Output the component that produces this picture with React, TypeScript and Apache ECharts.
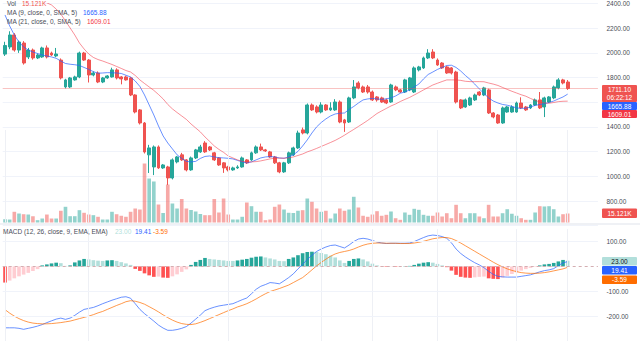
import React, { useEffect, useRef } from "react";
import * as echarts from "echarts";

// ---------- data ----------
const opens = [1990,2048,2145,2023,2080,1967,2023,1959,1967,2040,
1999,1975,1942,1724,1724,1781,1805,1999,1942,1821,
1837,1764,1797,1805,1862,1805,1805,1797,1659,1538,
1432,1174,1076,1238,1068,1076,987,1117,1174,1133,
1052,1149,1198,1270,1238,1190,1149,1109,1076,1052,
1068,1076,1133,1133,1190,1238,1214,1198,1157,1109,
1036,1109,1174,1230,1376,1351,1578,1562,1521,1578,
1538,1538,1602,1457,1440,1635,1756,1724,1724,1683,
1643,1635,1619,1602,1724,1700,1683,1700,1683,1862,
1878,1959,2007,1942,1918,1886,1878,1845,1619,1562,
1578,1619,1683,1659,1700,1513,1497,1432,1521,1521,
1521,1594,1562,1554,1578,1619,1562,1602,1635,1716,
1781,1764];
const closes = [2060,2145,2023,2088,1918,2023,1959,1983,2040,1967,
1983,1991,1797,1781,1797,1805,1999,1942,1821,1837,
1764,1797,1813,1862,1797,1789,1781,1659,1521,1432,
1197,1230,1238,1068,1092,987,1133,1157,1133,1052,
1149,1214,1238,1198,1214,1133,1092,1068,1052,1068,
1076,1149,1109,1190,1238,1214,1206,1157,1109,1036,
1109,1190,1230,1351,1351,1578,1538,1521,1578,1538,
1554,1602,1440,1432,1635,1724,1716,1683,1683,1619,
1619,1602,1594,1740,1700,1683,1781,1797,1878,1886,
1959,1999,1959,1902,1878,1837,1837,1602,1554,1619,
1635,1659,1659,1716,1513,1481,1432,1554,1562,1562,
1594,1554,1538,1578,1619,1554,1635,1643,1724,1781,
1756,1711.1];
const highs = [2090,2175,2160,2100,2095,2040,2035,1995,2050,2060,
2010,2040,1955,1790,1805,1815,2010,2008,1950,1850,
1850,1805,1820,1880,1875,1812,1815,1805,1665,1545,
1440,1255,1250,1250,1100,1085,1145,1165,1190,1140,
1160,1222,1255,1285,1245,1198,1155,1115,1085,1078,
1090,1160,1140,1200,1250,1265,1222,1206,1165,1117,
1117,1200,1240,1370,1395,1590,1590,1575,1600,1585,
1600,1625,1615,1465,1645,1780,1770,1735,1740,1695,
1650,1645,1630,1750,1735,1708,1790,1805,1890,1895,
1970,2030,2030,1955,1925,1895,1885,1855,1625,1630,
1645,1670,1690,1725,1710,1520,1505,1565,1570,1575,
1605,1640,1570,1585,1630,1683,1645,1650,1735,1795,
1790,1780];
const lows = [1975,2030,2010,2000,1905,1950,1945,1950,1960,1955,
1975,1965,1785,1712,1715,1775,1795,1935,1760,1810,
1755,1755,1790,1800,1785,1745,1775,1650,1510,1420,
1185,1027,1010,1060,1060,930,975,1105,1125,1040,
1045,1140,1190,1190,1205,1125,1085,1028,1040,1045,
1060,1070,1100,1125,1182,1205,1198,1150,1100,1025,
1028,1100,1165,1222,1340,1340,1530,1510,1510,1530,
1530,1530,1430,1360,1432,1625,1705,1675,1670,1610,
1605,1595,1585,1595,1690,1675,1675,1690,1675,1850,
1870,1950,1950,1895,1870,1830,1825,1590,1545,1555,
1570,1610,1650,1650,1505,1470,1425,1425,1515,1515,
1515,1545,1530,1545,1570,1545,1480,1595,1625,1705,
1745,1700];
// volume in thousands
const volumes = [5.5,5.0,18.0,15.1,13.9,13.4,10.6,3.9,6.7,13.4,
6.7,6.7,19.7,26.4,10.6,10.6,20.7,16.3,13.4,12.3,
9.6,5.0,5.0,18.0,13.9,11.3,9.6,18.0,23.5,21.8,
99.1,73.9,68.9,30.2,16.0,63.8,31.9,23.5,39.5,23.5,
21.0,18.5,14.3,12.3,12.3,39.5,16.8,40.3,13.4,5.0,
5.0,9.6,33.6,27.4,18.0,18.0,3.9,5.0,26.4,30.2,
21.8,16.3,16.0,19.7,20.7,40.3,34.8,23.5,18.0,19.7,
6.7,15.1,23.5,19.7,21.8,43.2,25.2,11.3,9.6,13.4,
19.0,11.3,12.9,18.5,7.2,4.5,16.8,12.9,23.0,21.3,
12.9,11.3,11.3,16.8,10.1,15.6,7.2,29.7,15.6,7.2,
15.6,15.6,10.1,7.2,29.7,10.1,10.1,15.6,22.3,14.6,
11.3,7.2,4.5,4.5,16.8,27.4,26.9,27.4,22.3,10.1,
13.9,15.121];
const ma9 = [2307,2218,2145,2088,2048,2023,2007,1995,1983,1975,
1967,1956,1934,1914,1908,1904,1898,1882,1866,1848,
1835,1837,1840,1839,1837,1833,1819,1805,1772,1728,
1659,1578,1497,1408,1327,1270,1222,1174,1145,1121,
1117,1121,1145,1161,1165,1157,1151,1149,1146,1141,
1129,1117,1108,1117,1133,1149,1157,1160,1157,1149,
1146,1157,1174,1202,1246,1295,1351,1400,1436,1465,
1489,1505,1511,1513,1542,1566,1594,1619,1627,1631,
1627,1623,1628,1635,1651,1673,1683,1700,1724,1748,
1789,1825,1845,1866,1882,1898,1900,1882,1853,1817,
1785,1748,1708,1671,1635,1610,1594,1582,1576,1566,
1554,1551,1551,1562,1574,1582,1588,1598,1610,1627,
1643,1665.88];
const ma21 = [2650,2625,2598,2570,2540,2510,2480,2455,2432,2405,
2388,2355,2315,2258,2202,2145,2080,2032,1991,1963,
1946,1934,1920,1906,1890,1874,1857,1845,1817,1781,
1752,1724,1696,1663,1627,1582,1546,1517,1489,1461,
1424,1392,1360,1319,1283,1246,1218,1194,1165,1149,
1133,1121,1117,1117,1119,1125,1133,1141,1147,1147,
1147,1149,1157,1169,1181,1198,1211,1226,1242,1258,
1274,1291,1311,1333,1357,1380,1404,1428,1453,1481,
1509,1530,1550,1570,1586,1606,1623,1639,1659,1679,
1700,1720,1740,1754,1768,1781,1781,1781,1777,1770,
1767,1767,1767,1766,1756,1747,1736,1720,1704,1689,
1675,1661,1649,1631,1615,1602,1594,1592,1598,1605,
1608,1609.01];
const macdLine = [-247,-247,-247,-249,-253,-249,-245,-240,-234,-226,
-219,-212,-208,-213,-208,-197,-184,-173,-169,-165,
-158,-150,-143,-136,-130,-124,-122,-128,-150,-173,
-190,-205,-220,-236,-248,-257,-257,-254,-249,-242,
-228,-212,-196,-178,-170,-164,-159,-156,-153,-150,
-142,-134,-127,-110,-92,-80,-73,-65,-67,-70,
-58,-45,-30,-10,8,28,45,60,70,78,
84,86,80,74,86,100,110,113,110,104,
98,94,92,93,93,93,93,94,100,108,
116,123,126,124,120,113,95,70,52,38,
26,15,6,-5,-20,-32,-40,-42,-43,-43,
-43,-40,-37,-34,-28,-22,-17,-14,-9,3,
14,19.41];
const signalLine = [-174,-188,-200,-210,-218,-224,-228,-230,-231,-231,
-230,-228,-226,-223,-220,-215,-210,-205,-200,-194,
-187,-181,-173,-165,-157,-150,-142,-138,-140,-145,
-152,-162,-172,-183,-195,-206,-216,-224,-230,-233,
-234,-231,-225,-218,-210,-202,-194,-186,-178,-171,
-163,-157,-150,-141,-131,-120,-110,-101,-95,-89,
-82,-75,-65,-55,-45,-30,-14,2,16,29,
41,50,56,60,64,70,78,85,90,93,
94,94,93,93,93,92,92,92,94,97,
101,106,111,114,116,116,112,104,94,83,
72,61,50,39,28,17,7,-2,-10,-16,
-21,-25,-27,-28,-28,-27,-25,-22,-18,-14,
-10,-3.59];
const macdHist = [-65,-57,-48,-40,-33,-26,-18,-11,4,8,
12,15,13,2,4,16,24,30,28,25,
23,22,24,25,22,17,12,6,-10,-18,
-28,-36,-42,-41,-45,-46,-40,-32,-22,-12,
6,18,26,34,30,28,26,24,22,22,
24,27,30,35,39,40,36,32,28,22,
21,30,36,45,53,58,59,58,54,49,
43,36,24,14,22,30,32,28,20,11,
4,-1,-2,-1,-2,-1,1,2,6,11,
15,17,15,10,4,-3,-17,-34,-42,-45,
-46,-44,-42,-41,-48,-50,-51,-45,-38,-31,
-24,-17,-11,-6,-2,4,8,10,14,20,
26,23];
const vGridIdx = [0, 18, 48, 68, 79, 93, 110, 121];
const priceTicksHidden = [600, 1600];
const macdTicksShown = [100, -100, -200];
const countdown = "06:22:12";
const N_SLOTS = 128;

const UP = "#26a69a";
const DOWN = "#ef5350";
const FONT = "'Liberation Sans', Arial, sans-serif";

export default function App() {
  const ref = useRef<HTMLDivElement>(null);
  useEffect(() => {
    const chart = echarts.init(ref.current!, null, { renderer: "svg" });
    const cats = Array.from({ length: N_SLOTS }, (_, i) => String(i));
    const n = closes.length;
    const last = n - 1;
    const candles = closes.map((c, i) => [opens[i], c, lows[i], highs[i]]);
    const volData = volumes.map((v, i) => ({
      value: v,
      itemStyle: { color: closes[i] >= opens[i] ? "rgba(38,166,154,0.5)" : "rgba(239,83,80,0.5)" },
    }));
    const histData = macdHist.map((v, i) => {
      const prev = i > 0 ? macdHist[i - 1] : v;
      let color;
      if (v >= 0) color = prev < v ? "#26a69a" : "#b2dfdb";
      else color = prev < v ? "#ffcdd2" : "#ff5252";
      return { value: v, itemStyle: { color } };
    });
    const vLines = vGridIdx.map((i) => ({ xAxis: String(i) }));
    const gridCommon = { left: 2.7, right: 42.1 };
    const lastPrice = closes[last];

    const txt = (x: number, y: number, text: string, fill: string, align = "left") => ({
      type: "text",
      x,
      y,
      z: 100,
      silent: true,
      style: { text, fill, fontSize: 6.5, fontFamily: FONT, align, verticalAlign: "middle" },
    });
    const tag = (y: number, h: number, bg: string, lines: string[], fg = "#ffffff") => {
      const els: any[] = [
        { type: "rect", z: 99, silent: true, shape: { x: 602, y, width: 35, height: h, r: 1 }, style: { fill: bg } },
      ];
      const lh = h / lines.length;
      lines.forEach((l, k) => els.push(txt(619.5, y + lh * (k + 0.5), l, fg, "center")));
      return els;
    };

    const option: any = {
      animation: false,
      backgroundColor: "#ffffff",
      textStyle: { fontFamily: FONT },
      grid: [
        { ...gridCommon, top: 3.5, height: 222.2 },
        { ...gridCommon, top: 130, height: 92.5 },
        { ...gridCommon, top: 229.1, height: 113.4 },
      ],
      xAxis: [0, 1, 2].map((g) => ({
        type: "category",
        gridIndex: g,
        data: cats,
        boundaryGap: true,
        show: false,
      })),
      yAxis: [
        {
          gridIndex: 0,
          type: "value",
          position: "right",
          min: 600,
          max: 2400,
          interval: 200,
          axisLine: { show: false },
          axisTick: { show: false },
          splitLine: { lineStyle: { color: "#f0f3fa", width: 1 } },
          axisLabel: {
            margin: 8.5,
            fontSize: 6.5,
            color: "#4a4d57",
            fontFamily: FONT,
            formatter: (v: number) => (priceTicksHidden.includes(v) ? "" : v.toFixed(2)),
          },
        },
        { gridIndex: 1, type: "value", min: 0, max: 155.4, show: false },
        {
          gridIndex: 2,
          type: "value",
          position: "right",
          min: -300,
          max: 150,
          interval: 50,
          axisLine: { show: false },
          axisTick: { show: false },
          splitLine: { show: false },
          axisLabel: {
            margin: 8.5,
            fontSize: 6.5,
            color: "#4a4d57",
            fontFamily: FONT,
            formatter: (v: number) => (macdTicksShown.includes(v) ? v.toFixed(2) : ""),
          },
        },
      ],
      series: [
        {
          type: "bar",
          name: "Vol",
          xAxisIndex: 1,
          yAxisIndex: 1,
          data: volData,
          barWidth: "78%",
          z: 1,
          markLine: {
            silent: true,
            symbol: "none",
            label: { show: false },
            lineStyle: { color: "#eef0f5", width: 1, type: "solid" },
            data: vLines,
          },
        },
        {
          type: "candlestick",
          xAxisIndex: 0,
          yAxisIndex: 0,
          data: candles,
          barWidth: 3.4,
          z: 3,
          itemStyle: { color: UP, color0: DOWN, borderColor: UP, borderColor0: DOWN, borderWidth: 1 },
          markLine: {
            silent: true,
            symbol: "none",
            label: { show: false },
            lineStyle: { color: "#ef5350", width: 1, type: "solid", opacity: 0.35 },
            data: [{ yAxis: lastPrice }],
          },
        },
        {
          type: "line",
          name: "MA9",
          xAxisIndex: 0,
          yAxisIndex: 0,
          data: ma9,
          showSymbol: false,
          z: 4,
          lineStyle: { color: "#2962ff", width: 1, opacity: 0.7 },
        },
        {
          type: "line",
          name: "MA21",
          xAxisIndex: 0,
          yAxisIndex: 0,
          data: ma21,
          showSymbol: false,
          z: 4,
          lineStyle: { color: "#f23645", width: 1, opacity: 0.55 },
        },
        {
          type: "bar",
          name: "Histogram",
          xAxisIndex: 2,
          yAxisIndex: 2,
          data: histData,
          barWidth: "78%",
          z: 2,
          markLine: {
            silent: true,
            symbol: "none",
            label: { show: false },
            data: [
              ...vLines.map((d) => ({ ...d, lineStyle: { color: "#eef0f5", width: 1, type: "solid" } })),
              ...macdTicksShown.map((v) => ({ yAxis: v, lineStyle: { color: "#f0f3fa", width: 1, type: "solid" } })),
              { yAxis: 0, lineStyle: { color: "#d4aeb2", width: 1, type: [3, 3] } },
            ],
          },
        },
        {
          type: "line",
          name: "MACD",
          xAxisIndex: 2,
          yAxisIndex: 2,
          data: macdLine,
          showSymbol: false,
          z: 4,
          lineStyle: { color: "#2962ff", width: 1, opacity: 0.7 },
        },
        {
          type: "line",
          name: "Signal",
          xAxisIndex: 2,
          yAxisIndex: 2,
          data: signalLine,
          showSymbol: false,
          z: 4,
          lineStyle: { color: "#ff6d00", width: 1, opacity: 0.7 },
        },
      ],
      graphic: [
        { type: "rect", z: 98, silent: true, shape: { x: 0, y: 223.5, width: 640, height: 1 }, style: { fill: "#e0e3eb" } },
        txt(7, 3, "Vol", "#4a4d57"),
        txt(22, 3, volumes[last].toFixed(3) + "K", "#ef5350"),
        txt(7, 12.7, "MA (9, close, 0, SMA, 5)", "#4a4d57"),
        txt(83, 12.7, ma9[last].toFixed(2), "#2962ff"),
        txt(7, 21.7, "MA (21, close, 0, SMA, 5)", "#4a4d57"),
        txt(87, 21.7, ma21[last].toFixed(2), "#f23645"),
        txt(3, 231, "MACD (12, 26, close, 9, EMA, EMA)", "#4a4d57"),
        txt(115, 231, macdHist[last].toFixed(2), "#b2dfdb"),
        txt(135, 231, macdLine[last].toFixed(2), "#2962ff"),
        txt(153, 231, signalLine[last].toFixed(2), "#ff6d00"),
        ...tag(85, 17, "#ef5350", [lastPrice.toFixed(2), countdown]),
        ...tag(102, 8, "#2962ff", [ma9[last].toFixed(2)]),
        ...tag(110, 8, "#f23645", [ma21[last].toFixed(2)]),
        ...tag(208.5, 9.5, "#ef5350", [volumes[last].toFixed(3) + "K"]),
        ...tag(257, 8.5, "#b2dfdb", [macdHist[last].toFixed(2)], "#131722"),
        ...tag(266, 8.5, "#2962ff", [macdLine[last].toFixed(2)]),
        ...tag(275.5, 8.5, "#ff6d00", [signalLine[last].toFixed(2)]),
      ],
    };
    chart.setOption(option);
    return () => chart.dispose();
  }, []);
  return (
    <div
      ref={ref}
      style={{ position: "fixed", left: 0, top: 0, width: 640, height: 341, background: "#fff" }}
    />
  );
}
